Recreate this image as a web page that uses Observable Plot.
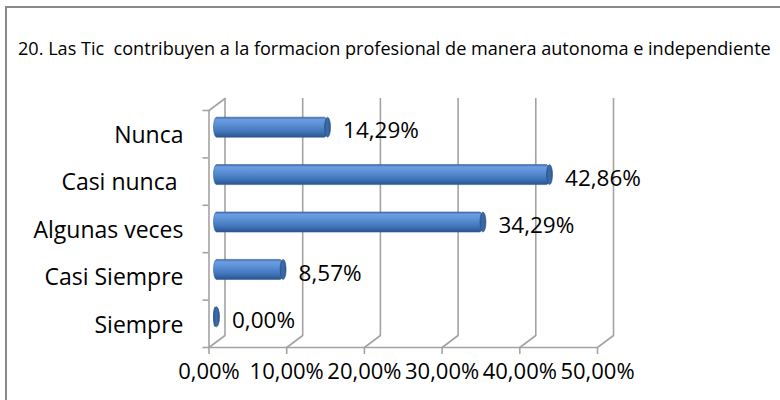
<!DOCTYPE html>
<html>
<head>
<meta charset="utf-8">
<script src="https://cdn.jsdelivr.net/npm/d3@7"></script>
<script src="https://cdn.jsdelivr.net/npm/@observablehq/plot@0.6"></script>
<style>
  html, body { margin: 0; padding: 0; background: #fff; }
  #wrap { position: relative; width: 780px; height: 400px; overflow: hidden; font-family: "Open Sans", sans-serif; }
  #border { position: absolute; left: 5px; top: 6px; width: 820px; height: 440px; border-left: 2px solid #8a8a8a; border-top: 2px solid #8a8a8a; }
  #title { position: absolute; left: 18px; top: 39px; font-family: "Open Sans", sans-serif; font-size: 18.1px; line-height: 18px; white-space: pre; color: #000; }
  #chart { position: absolute; left: 0; top: 0; }
</style>
</head>
<body>
<div id="wrap">
  <div id="chart"></div>
  <div id="border"></div>
  <div id="title"></div>
</div>
<script>
const titleText = "20. Las Tic  contribuyen a la formacion profesional de manera autonoma e independiente";
const categories = ["Nunca", "Casi nunca ", "Algunas veces", "Casi Siempre", "Siempre"];
const values = [14.29, 42.86, 34.29, 8.57, 0.00];
const valueLabels = ["14,29%", "42,86%", "34,29%", "8,57%", "0,00%"];
const xTicks = [0, 10, 20, 30, 40, 50];
const xTickLabels = ["0,00%", "10,00%", "20,00%", "30,00%", "40,00%", "50,00%"];

document.getElementById("title").textContent = titleText;

const data = categories.map((c, i) => ({cat: c, i, value: values[i], label: valueLabels[i]}));
const bounds = categories.map((_, i) => i - 0.5).concat([categories.length - 0.5]);

const gridColor = "#a3a3a3";
const lineShape = {draw(context, l) { context.moveTo(0, 0); context.lineTo(0, -l); }};
const depthLen = 20, depthAngle = 53.13;
const barInset = 13.7;

const chart = Plot.plot({
  width: 780,
  height: 400,
  marginLeft: 208.5,
  marginRight: 183,
  marginTop: 110,
  marginBottom: 53,
  x: {domain: [0, 50], axis: null, label: null},
  y: {domain: [-0.5, categories.length - 0.5], reverse: true, axis: null, label: null},
  style: {fontFamily: "Open Sans, sans-serif", background: "transparent", overflow: "visible"},
  marks: [
    Plot.ruleX(xTicks, {stroke: gridColor, strokeWidth: 1.6, dx: 16, dy: -12}),
    Plot.vector(xTicks, {x: d => d, y: () => categories.length - 0.5, length: depthLen, rotate: depthAngle, anchor: "start", shape: lineShape, stroke: gridColor, strokeWidth: 1.6}),
    Plot.vector([0], {x: d => d, y: () => -0.5, length: depthLen, rotate: depthAngle, anchor: "start", shape: lineShape, stroke: gridColor, strokeWidth: 1.6}),
    Plot.ruleX([0], {stroke: gridColor, strokeWidth: 1.6}),
    Plot.ruleY([categories.length - 0.5], {stroke: gridColor, strokeWidth: 1.6}),
    Plot.axisY({ticks: bounds, tickSize: 6, tickFormat: () => "", label: null, stroke: gridColor, strokeWidth: 1.6}),
    Plot.axisX({ticks: xTicks, tickSize: 7, tickPadding: 9, tickFormat: d => xTickLabels[xTicks.indexOf(d)], label: null, fontSize: 22, stroke: gridColor, strokeWidth: 1.6, fill: "#000"}),
    Plot.rect(data, {x1: () => 0, x2: "value", y1: d => d.i - 0.5, y2: d => d.i + 0.5, insetTop: barInset, insetBottom: barInset, insetLeft: -3, dx: 8, dy: -6.5, rx: 3, ry: 10, fill: "url(#barGrad)", stroke: "#34609b", strokeWidth: 0.6}),
    Plot.rect(data, {x1: "value", x2: "value", y1: d => d.i - 0.5, y2: d => d.i + 0.5, insetTop: barInset, insetBottom: barInset, insetLeft: -3, insetRight: -3, dx: 8, dy: -6.5, rx: 3, ry: 10, fill: "url(#capGrad)", stroke: "#2a5285", strokeWidth: 0.6}),
    Plot.text(data, {x: () => 0, y: "i", text: "cat", textAnchor: "end", dx: -25.5, dy: 1.5, fontSize: 23, fill: "#000", style: "white-space: pre"}),
    Plot.text(data, {x: "value", y: "i", text: "label", textAnchor: "start", dx: 23, dy: -3, fontSize: 22.5, fill: "#000"})
  ]
});

const ns = "http://www.w3.org/2000/svg";
const defs = document.createElementNS(ns, "defs");
defs.innerHTML = `
  <linearGradient id="barGrad" x1="0" y1="0" x2="0" y2="1">
    <stop offset="0" stop-color="#3e6fb2"/>
    <stop offset="0.12" stop-color="#6c9de0"/>
    <stop offset="0.35" stop-color="#5d91d6"/>
    <stop offset="0.7" stop-color="#4377bd"/>
    <stop offset="0.9" stop-color="#33609c"/>
    <stop offset="1" stop-color="#2a5288"/>
  </linearGradient>
  <linearGradient id="capGrad" x1="0" y1="0" x2="1" y2="0">
    <stop offset="0" stop-color="#2f5a94"/>
    <stop offset="0.5" stop-color="#3d6cab"/>
    <stop offset="1" stop-color="#2c568e"/>
  </linearGradient>`;
chart.insertBefore(defs, chart.firstChild);
document.getElementById("chart").appendChild(chart);
</script>
</body>
</html>
